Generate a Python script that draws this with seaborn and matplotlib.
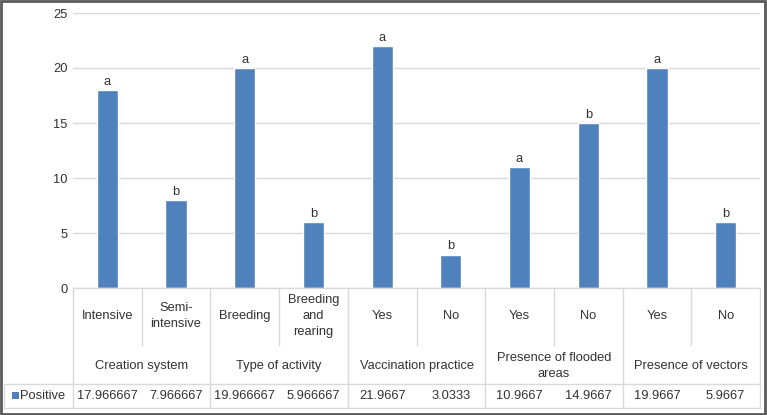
import matplotlib
matplotlib.use("Agg")
import matplotlib.pyplot as plt
from matplotlib.patches import Rectangle
import pandas as pd
import seaborn as sns

categories = ["Intensive", "Semi-\nintensive", "Breeding", "Breeding\nand\nrearing",
              "Yes", "No", "Yes", "No", "Yes", "No"]
groups = ["Creation system", "Type of activity", "Vaccination practice",
          "Presence of flooded\nareas", "Presence of vectors"]
positive = [17.966667, 7.966667, 19.966667, 5.966667, 21.9667,
            3.0333, 10.9667, 14.9667, 19.9667, 5.9667]
table_labels = ["17.966667", "7.966667", "19.966667", "5.966667", "21.9667",
                "3.0333", "10.9667", "14.9667", "19.9667", "5.9667"]
letters = ["a", "b", "a", "b", "a", "b", "a", "b", "a", "b"]

sns.set_theme(style="white")
plt.rcParams["font.family"] = ["Liberation Sans", "DejaVu Sans"]

W, H = 767, 415
fig = plt.figure(figsize=(W / 100, H / 100), dpi=100)
fig.patch.set_facecolor("white")

# plot area in pixels: left 73, right 760, top 13, bottom 288
ax = fig.add_axes([73 / W, (H - 288) / H, (760 - 73) / W, (288 - 13) / H])

df = pd.DataFrame({"pos": range(len(positive)), "value": positive})
sns.barplot(data=df, x="pos", y="value", color="#4F81BD", width=0.31,
            saturation=1, ax=ax)

text_col = "#333333"
line_col = "#d9d9d9"
fs = 9.3

ax.set_xlim(-0.5, 9.5)
ax.set_ylim(0, 25)
ax.set_yticks(range(0, 26, 5))
ax.yaxis.grid(True, color=line_col, lw=1)
ax.set_axisbelow(True)
ax.set_xticks([])
ax.set_xlabel("")
ax.set_ylabel("")
ax.tick_params(axis="y", length=0, pad=4, labelsize=fs, labelcolor=text_col)
for s in ax.spines.values():
    s.set_visible(False)

for i, (v, l) in enumerate(zip(positive, letters)):
    ax.text(i, v + 0.25, l, ha="center", va="bottom", fontsize=fs, color=text_col)


def yfrac(px):
    return (288 - px) / (288 - 13)


tr = ax.get_xaxis_transform()
left_x = -0.5 + (4 - 73) / ((760 - 73) / 10)

# axis base line
ax.plot([-0.5, 9.5], [0, 0], transform=tr, color=line_col, lw=1, clip_on=False)

# separators: long ones between groups, short ones inside a group
for b in range(11):
    xb = b - 0.5
    y_end = yfrac(408) if b % 2 == 0 else yfrac(345)
    ax.plot([xb, xb], [0, y_end], transform=tr, color=line_col, lw=1, clip_on=False)

# data table row
for yy in (384, 408):
    ax.plot([left_x, 9.5], [yfrac(yy)] * 2, transform=tr, color=line_col, lw=1,
            clip_on=False)
ax.plot([left_x, left_x], [yfrac(384), yfrac(408)], transform=tr, color=line_col,
        lw=1, clip_on=False)

for i, c in enumerate(categories):
    ax.text(i, yfrac(316), c, transform=tr, ha="center", va="center",
            fontsize=fs, color=text_col, linespacing=1.4)

for g, name in enumerate(groups):
    ax.text(2 * g + 0.5, yfrac(366), name, transform=tr, ha="center",
            va="center", fontsize=fs, color=text_col, linespacing=1.4)

for i, t in enumerate(table_labels):
    ax.text(i, yfrac(396), t, transform=tr, ha="center", va="center",
            fontsize=fs, color=text_col)

# legend key in table
fig.patches.append(Rectangle((12 / W, (H - 399) / H), 7 / W, 7 / H,
                             transform=fig.transFigure, facecolor="#4F81BD",
                             edgecolor="none"))
fig.text(20 / W, (H - 396) / H, "Positive", ha="left", va="center",
         fontsize=fs, color=text_col)

# outer frame
fig.patches.append(Rectangle((0.001, 0.002), 0.997, 0.996,
                             transform=fig.transFigure, facecolor="none",
                             edgecolor="#595959", lw=2))

fig.savefig("out.png", dpi=100)
